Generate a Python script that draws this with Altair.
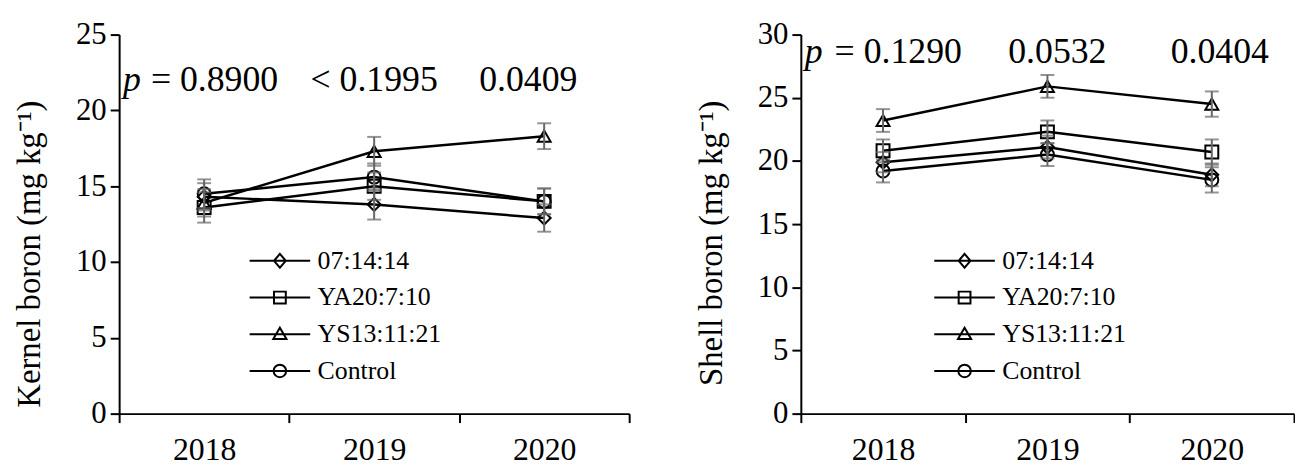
import altair as alt
import pandas as pd

FONT = "Liberation Serif"
GRAY = "#666666"

years = ["2018", "2019", "2020"]
treatments = ["07:14:14", "YA20:7:10", "YS13:11:21", "Control"]

# Kernel boron (mg kg-1)
kernel_0714 = [14.3, 13.8, 12.9]
kernel_ya20 = [13.6, 15.0, 14.0]
kernel_ys13 = [13.9, 17.3, 18.3]
kernel_ctrl = [14.5, 15.6, 14.0]
kernel_err_0714 = [0.9, 1.0, 0.9]
kernel_err_ya20 = [1.0, 0.9, 0.85]
kernel_err_ys13 = [0.9, 0.95, 0.85]
kernel_err_ctrl = [0.95, 0.9, 0.85]
kernel_p = ["= 0.8900", "< 0.1995", "0.0409"]

# Shell boron (mg kg-1)
shell_0714 = [19.9, 21.1, 18.9]
shell_ya20 = [20.8, 22.3, 20.7]
shell_ys13 = [23.2, 25.9, 24.5]
shell_ctrl = [19.2, 20.5, 18.5]
shell_err_0714 = [0.8, 0.9, 0.9]
shell_err_ya20 = [0.9, 0.9, 1.0]
shell_err_ys13 = [0.9, 0.9, 1.0]
shell_err_ctrl = [0.9, 0.9, 1.0]
shell_p = ["= 0.1290", "0.0532", "0.0404"]

point_shapes = ["diamond", "square", "triangle-up", "circle"]
legend_shapes = [
    "M-4.36,0L4.36,0M0,-1L0.85,0L0,1L-0.85,0Z",
    "M-4.36,0L4.36,0M-0.85,-0.85L0.85,-0.85L0.85,0.85L-0.85,0.85Z",
    "M-4.36,0L4.36,0M0,-0.95L0.95,0.7L-0.95,0.7Z",
    "M-4.36,0L4.36,0M0.9,0A0.9,0.9,0,1,1,-0.9,0A0.9,0.9,0,1,1,0.9,0Z",
]


def make_df(vals, errs):
    rows = []
    for t, v, e in zip(treatments, vals, errs):
        for y, vv, ee in zip(years, v, e):
            rows.append({"year": y, "treatment": t, "value": vv,
                         "lo": vv - ee, "hi": vv + ee})
    return pd.DataFrame(rows)


kernel_df = make_df([kernel_0714, kernel_ya20, kernel_ys13, kernel_ctrl],
                    [kernel_err_0714, kernel_err_ya20, kernel_err_ys13, kernel_err_ctrl])
shell_df = make_df([shell_0714, shell_ya20, shell_ys13, shell_ctrl],
                   [shell_err_0714, shell_err_ya20, shell_err_ys13, shell_err_ctrl])


def panel(df, ymax, ytitle, ptexts, p_y, p_x, p_dx, leg_x, leg_y, width, height):
    xscale = alt.Scale(domain=years, paddingInner=0, paddingOuter=0)
    xenc = alt.X("year:N", scale=xscale,
                 axis=alt.Axis(title=None, tickBand="extent", labelAngle=0,
                               labelFontSize=32, labelPadding=12))
    yscale = alt.Scale(domain=[0, ymax], nice=False, zero=True)
    yenc = alt.Y("value:Q", scale=yscale,
                 axis=alt.Axis(title=ytitle, values=list(range(0, ymax + 1, 5)),
                               grid=False, labelFontSize=31, labelPadding=4,
                               titleFontSize=33, titlePadding=29,
                               titleAlign="right", titleY=66))
    base = alt.Chart(df)
    lines = base.mark_line(color="black", strokeWidth=2.5).encode(
        x=xenc, y=yenc, detail="treatment:N")
    points = base.mark_point(filled=False, color="black", strokeWidth=2,
                             size=170, opacity=1).encode(
        x="year:N", y="value:Q",
        shape=alt.Shape("treatment:N",
                        scale=alt.Scale(domain=treatments, range=point_shapes),
                        legend=None))
    rules = base.mark_rule(color=GRAY, strokeWidth=2).encode(
        x="year:N", y="lo:Q", y2="hi:Q")
    cap_lo = base.mark_tick(color=GRAY, thickness=2, size=14).encode(
        x="year:N", y="lo:Q")
    cap_hi = base.mark_tick(color=GRAY, thickness=2, size=14).encode(
        x="year:N", y="hi:Q")

    legend_df = pd.DataFrame({"treatment": treatments,
                              "year": [years[0]] * 4,
                              "value": [None] * 4})
    leg = alt.Chart(legend_df).mark_point(filled=False, color="black",
                                          strokeWidth=2, opacity=1).encode(
        x="year:N", y="value:Q",
        shape=alt.Shape("treatment:N",
                        scale=alt.Scale(domain=treatments, range=legend_shapes),
                        legend=alt.Legend(orient="none", legendX=leg_x, legendY=leg_y,
                                          title=None, symbolSize=196,
                                          labelOffset=25, labelFont=FONT,
                                          labelFontSize=26, labelColor="black",
                                          rowPadding=11, padding=0,
                                          symbolStrokeWidth=2,
                                          symbolStrokeColor="black",
                                          symbolFillColor="transparent")))

    p_letter = alt.Chart(pd.DataFrame({"t": ["p"]})).mark_text(
        font=FONT, fontSize=36, fontStyle="italic", align="left",
        baseline="middle", color="black").encode(
        x=alt.value(4), y=alt.datum(p_y), text="t:N")
    p_first = alt.Chart(pd.DataFrame({"t": [ptexts[0]]})).mark_text(
        font=FONT, fontSize=36, align="left", baseline="middle",
        color="black").encode(x=alt.value(p_x), y=alt.datum(p_y), text="t:N")
    p_second = alt.Chart(pd.DataFrame({"year": [years[1]], "t": [ptexts[1]]})).mark_text(
        font=FONT, fontSize=36, align="center", baseline="middle",
        color="black", dx=p_dx[0]).encode(x="year:N", y=alt.datum(p_y), text="t:N")
    p_third = alt.Chart(pd.DataFrame({"year": [years[2]], "t": [ptexts[2]]})).mark_text(
        font=FONT, fontSize=36, align="center", baseline="middle",
        color="black", dx=p_dx[1]).encode(x="year:N", y=alt.datum(p_y), text="t:N")

    return alt.layer(lines, points, rules, cap_lo, cap_hi, leg,
                     p_letter, p_first, p_second, p_third).resolve_scale(
        shape="independent").properties(width=width, height=height)


left = panel(kernel_df, 25, "Kernel boron (mg kg⁻¹)", kernel_p, 22.0, 32, [0, -16],
             149, 215, 514, 382)
right = panel(shell_df, 30, "Shell boron (mg kg⁻¹)", shell_p, 28.6, 34, [10, 8],
              152, 215, 497, 382)

chart = alt.hconcat(left, right, spacing=65).properties(
    padding={"left": 5, "top": 9, "right": 0, "bottom": 0},
    background="white"
).configure_view(stroke=None).configure_axis(
    labelFont=FONT, titleFont=FONT, labelColor="black", titleColor="black",
    domainColor="black", tickColor="black", domainWidth=2, tickWidth=2,
    tickSize=9, titleFontWeight="normal"
)

chart.save("out.html", embed_options={"renderer": "svg", "actions": False})
